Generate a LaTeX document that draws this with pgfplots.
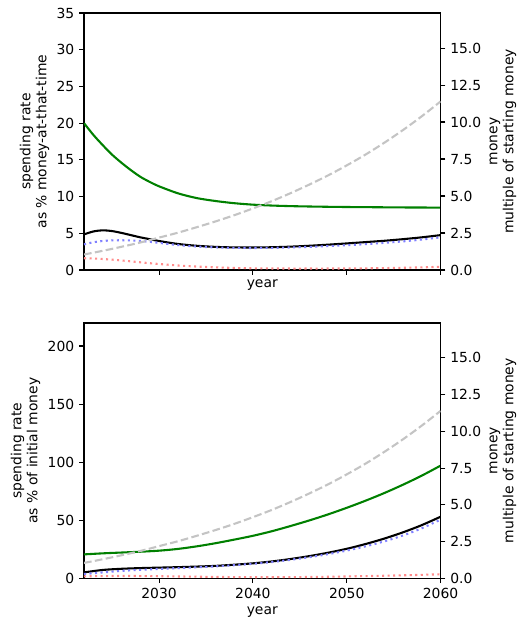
\documentclass[border=0pt]{standalone}
\usepackage{fontspec}
\setmainfont{DejaVu Sans}
\usepackage{pgfplots}
\pgfplotsset{compat=1.18}
\usepackage{pgfplotstable}
\definecolor{mgreen}{HTML}{008000}
\definecolor{lblue}{HTML}{8080FF}
\definecolor{lred}{HTML}{FF8C8C}
\definecolor{lgray}{HTML}{C4C4C4}

\pgfplotstableread{
year g k b r m
2022 20.0 4.85 3.50 1.60 1.05
2023 18.4 5.25 3.78 1.57 1.17
2024 17.0 5.40 3.95 1.50 1.30
2025 15.7 5.30 4.03 1.41 1.43
2026 14.6 5.05 4.05 1.30 1.57
2027 13.6 4.75 4.02 1.18 1.71
2028 12.7 4.45 3.95 1.05 1.86
2029 12.0 4.20 3.84 0.93 2.02
2030 11.4 3.95 3.70 0.82 2.19
2032 10.45 3.55 3.40 0.62 2.52
2034 9.8 3.30 3.20 0.47 2.89
2036 9.4 3.15 3.08 0.36 3.28
2038 9.1 3.08 3.02 0.28 3.70
2040 8.9 3.07 3.00 0.23 4.16
2042 8.78 3.10 3.02 0.21 4.65
2044 8.70 3.18 3.07 0.20 5.19
2046 8.65 3.30 3.15 0.20 5.77
2048 8.61 3.45 3.25 0.20 6.39
2050 8.58 3.62 3.38 0.21 7.07
2052 8.56 3.80 3.52 0.23 7.80
2054 8.54 3.98 3.70 0.26 8.60
2056 8.52 4.20 3.90 0.30 9.46
2058 8.51 4.45 4.15 0.36 10.39
2060 8.50 4.75 4.45 0.44 11.39
}\toptab

\pgfplotstableread{
year g k b r
2022 20.6 5.1 3.7 1.7
2024 21.5 7.2 5.1 1.9
2026 22.2 8.2 6.4 2.0
2028 22.9 8.8 7.3 1.95
2030 23.8 9.2 8.1 1.8
2032 25.3 9.6 8.8 1.6
2034 27.5 10.1 9.5 1.4
2036 30.2 10.7 10.3 1.2
2038 33.3 11.7 11.3 1.05
2040 36.6 12.9 12.5 0.95
2042 40.5 14.5 14.0 0.95
2044 45.0 16.6 15.9 1.0
2046 49.8 19.1 18.2 1.15
2048 55.0 22.0 20.8 1.35
2050 60.7 25.4 23.9 1.6
2052 66.8 29.5 27.5 1.9
2054 73.4 34.2 31.8 2.2
2056 80.6 39.6 36.9 2.6
2058 88.4 45.8 43.1 3.0
2060 97.0 53.0 50.5 3.5
}\bottab

\pgfplotsset{
  base/.style={
    scale only axis, width=256.7pt, xmin=2022, xmax=2060,
    tick align=outside, major tick length=3.5pt,
    axis line style={line width=0.8pt}, every tick/.style={black, line width=0.8pt},
    tick label style={font=\fontsize{10}{12}\selectfont},
    label style={font=\fontsize{10}{11.5}\selectfont, align=center},
    /pgf/number format/assume math mode=true,
    xtick={2030,2040,2050,2060},
    xticklabel style={/pgf/number format/1000 sep={}},
    minor tick num=0,
  },
  leftax/.style={base, xtick pos=left, ytick pos=left},
  rightax/.style={base, axis x line=none, axis y line*=right, ytick pos=right, yticklabel pos=right,
    ymin=0, ymax=17.37, ytick={0,2.5,5,7.5,10,12.5,15},
    yticklabel style={/pgf/number format/.cd, fixed, fixed zerofill, precision=1},
    ylabel={money\\multiple of starting money},
    ylabel style={at={(axis description cs:1.175,0.5)}, anchor=center, rotate=0},
  },
  sol/.style={line width=1.5pt, smooth},
  dot/.style={line width=1.5pt, smooth, dash pattern=on 1.5pt off 2.475pt},
  dsh/.style={lgray, line width=1.5pt, smooth, dash pattern=on 5.55pt off 2.4pt},
}

\begin{document}
\begin{tikzpicture}
\path[use as bounding box] (0,0) rectangle (375.84pt,-453.6pt);

% ---------- top panel ----------
\begin{axis}[leftax, height=185.04pt, at={(60.48pt,-194.4pt)}, anchor=south west,
  ymin=0, ymax=35, ytick={0,5,...,35}, xticklabels={},
  ylabel={spending rate\\as \% money-at-that-time},
  ylabel style={at={(axis description cs:-0.139,0.5)}, anchor=center},
  xlabel={year},
  xlabel style={at={(axis description cs:0.5,-0.058)}, anchor=center}]
\addplot[mgreen, sol] table[x=year,y=g]{\toptab};
\addplot[black, sol] table[x=year,y=k]{\toptab};
\addplot[lblue, dot] table[x=year,y=b]{\toptab};
\addplot[lred, dot] table[x=year,y=r]{\toptab};
\end{axis}
\begin{axis}[rightax, height=185.04pt, at={(60.48pt,-194.4pt)}, anchor=south west]
\addplot[dsh] table[x=year,y=m]{\toptab};
\end{axis}

% ---------- bottom panel ----------
\begin{axis}[leftax, height=183.8pt, at={(60.48pt,-416.38pt)}, anchor=south west,
  ymin=0, ymax=219.8, ytick={0,50,100,150,200},
  ylabel={spending rate\\as \% of initial money},
  ylabel style={at={(axis description cs:-0.164,0.5)}, anchor=center},
  xlabel={year},
  xlabel style={at={(axis description cs:0.5,-0.132)}, anchor=center}]
\addplot[mgreen, sol] table[x=year,y=g]{\bottab};
\addplot[black, sol] table[x=year,y=k]{\bottab};
\addplot[lblue, dot] table[x=year,y=b]{\bottab};
\addplot[lred, dot] table[x=year,y=r]{\bottab};
\end{axis}
\begin{axis}[rightax, height=183.8pt, at={(60.48pt,-416.38pt)}, anchor=south west]
\addplot[dsh] table[x=year,y=m]{\toptab};
\end{axis}
\end{tikzpicture}
\end{document}
